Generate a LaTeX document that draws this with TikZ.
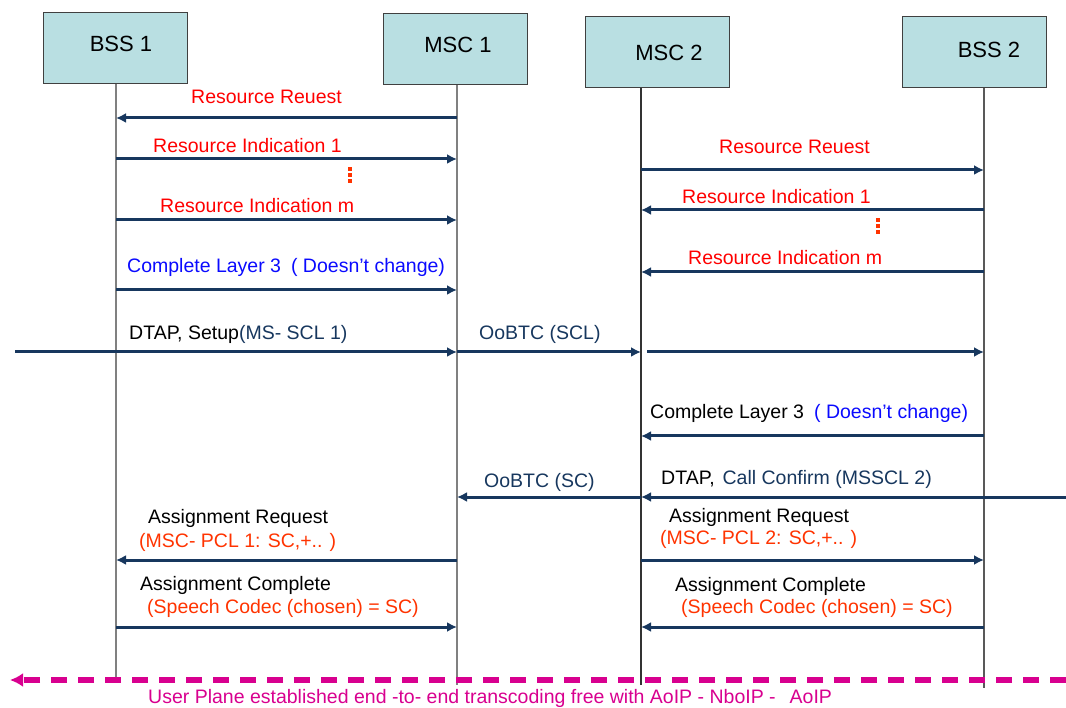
\documentclass[tikz,border=0pt]{standalone}
\usepackage{fontspec}
\setmainfont{Liberation Sans}
\usetikzlibrary{arrows.meta}
\definecolor{boxfill}{HTML}{B9DFE2}
\definecolor{boxline}{HTML}{404040}
\definecolor{navy}{HTML}{17375E}
\definecolor{msgred}{HTML}{FF0000}
\definecolor{orred}{HTML}{FF3300}
\definecolor{msgblue}{HTML}{0A0AFF}
\definecolor{magen}{HTML}{D8008F}
\begin{document}
\begin{tikzpicture}[x=1pt,y=-1pt]
	\tikzstyle{entity}=[rectangle, draw=boxline, fill=boxfill, line width=1pt, minimum width=144pt, minimum height=71pt, inner sep=0pt]
	\tikzstyle{ename}=[inner sep=0pt, font=\fontsize{22}{26}\selectfont]
	\tikzstyle{life}=[line width=1.8pt]
	\tikzstyle{msg}=[navy, line width=3pt, -{Latex[length=10pt,width=10pt]}]
	\tikzstyle{lbl}=[anchor=base west, inner sep=0pt, font=\fontsize{19.5}{23}\selectfont]
	\useasboundingbox (0,0) rectangle (1066,708);
	% Entities
	\node at (115.5,48.5) [entity] (bss1) {};
	\node at (455,49.5) [entity] (msc1) {};
	\node at (657,52) [entity] (msc2) {};
	\node at (974.5,52.5) [entity] (bss2) {};
	\node at (121,44) [ename] (bss1name) {BSS 1};
	\node at (458,45) [ename] (msc1name) {MSC 1};
	\node at (669,53) [ename] (msc2name) {MSC 2};
	\node at (989,50) [ename] (bss2name) {BSS 2};
	% Lifelines
	\foreach \n/\x/\t/\b/\c in {bss1/116/84/680/gray, msc1/457/85/685/gray, msc2/641/88/685/black!80, bss2/984/88/688/black!65} {
		\coordinate (\n top) at (\x,\t);
		\coordinate (\n bot) at (\x,\b);
		\draw [life, \c] (\n top) -- (\n bot);
	}
	\foreach \n/\x in {bss1/116,msc1/457,msc2/641,bss2/984}
		\foreach \y in {118,159,170,210,220,272,290,352,436,497,560,627}
			\coordinate (\n-\y) at (\x,\y);
	\coordinate (dtapin) at (15,352);
	\coordinate (ccin) at (1066,497);
	\coordinate (upright) at (1066,680);
	\coordinate (upleft) at (10,680);
	%---------------------%
	% BSS 1 <-> MSC 1
	\draw [msg] (msc1-118) -- (bss1-118);
	\foreach \y in {159,220,290}
		\draw [msg] (bss1-\y) -- (msc1-\y);
	\draw [msg] (msc1-560) -- (bss1-560);
	\draw [msg] (bss1-627) -- (msc1-627);
	% MSC 2 <-> BSS 2
	\draw [msg] (msc2-170) -- (bss2-170);
	\foreach \y in {210,272,436}
		\draw [msg] (bss2-\y) -- (msc2-\y);
	\draw [msg] (msc2-560) -- (bss2-560);
	\draw [msg] (bss2-627) -- (msc2-627);
	% Setup
	\draw [msg] (dtapin) -- (msc1-352);
	\draw [msg] (msc1-352) -- (msc2-352);
	\draw [msg, shorten <=6pt] (msc2-352) -- (bss2-352);
	% Call Confirm
	\draw [msg] (ccin) -- (msc2-497);
	\draw [msg] (msc2-497) -- (msc1-497);
	% User plane
	\draw [magen, line width=5.5pt, dash pattern=on 16pt off 11pt, -{Latex[length=13pt,width=14pt]}] (upright) -- (upleft);
	%---------------------%
	% Labels
	\node at (191,104) [lbl, msgred] (rreq1) {Resource Reuest};
	\node at (153,153) [lbl, msgred] (rind1a) {Resource Indication 1};
	\node at (160,213) [lbl, msgred] (rindma) {Resource Indication m};
	\node at (127,273) [lbl, msgblue] (cl3a) {Complete Layer 3\hspace{10pt}( Doesn't change)};
	\node at (129,340) [lbl] (setup) {DTAP, Setup\textcolor{navy}{(MS- SCL 1)}};
	\node at (479,340) [lbl, navy] (oobscl) {OoBTC (SCL)};
	\node at (719,154) [lbl, msgred] (rreq2) {Resource Reuest};
	\node at (682,204) [lbl, msgred] (rind1b) {Resource Indication 1};
	\node at (688,265) [lbl, msgred] (rindmb) {Resource Indication m};
	\node at (650,419) [lbl] (cl3b) {Complete Layer 3\hspace{10pt}\textcolor{msgblue}{( Doesn't change)}};
	\node at (661,485) [lbl] (confirm) {DTAP,\hspace{8pt}\textcolor{navy}{Call Confirm (MSSCL 2)}};
	\node at (484,487) [lbl, navy] (oobsc) {OoBTC (SC)};
	\node at (148,523) [lbl] (areq1) {Assignment Request};
	\node at (139,547) [lbl, orred] (pcl1) {(MSC- PCL 1: SC,+.. )};
	\node at (140,590) [lbl] (acomp1) {Assignment Complete};
	\node at (147,613) [lbl, orred] (codec1) {(Speech Codec (chosen) = SC)};
	\node at (669,522) [lbl] (areq2) {Assignment Request};
	\node at (660,544) [lbl, orred] (pcl2) {(MSC- PCL 2: SC,+.. )};
	\node at (675,591) [lbl] (acomp2) {Assignment Complete};
	\node at (681,613) [lbl, orred] (codec2) {(Speech Codec (chosen) = SC)};
	\node at (148,703) [lbl, magen] (uplane) {User Plane established end -to- end transcoding free with AoIP - NboIP -\hspace{14pt}AoIP};
	% Dots
	\foreach \y in {167,173,179}
		\fill [orred] (348,\y) rectangle ++(4,4);
	\foreach \y in {218,224,230}
		\fill [orred] (876,\y) rectangle ++(4,4);
\end{tikzpicture}
\end{document}
